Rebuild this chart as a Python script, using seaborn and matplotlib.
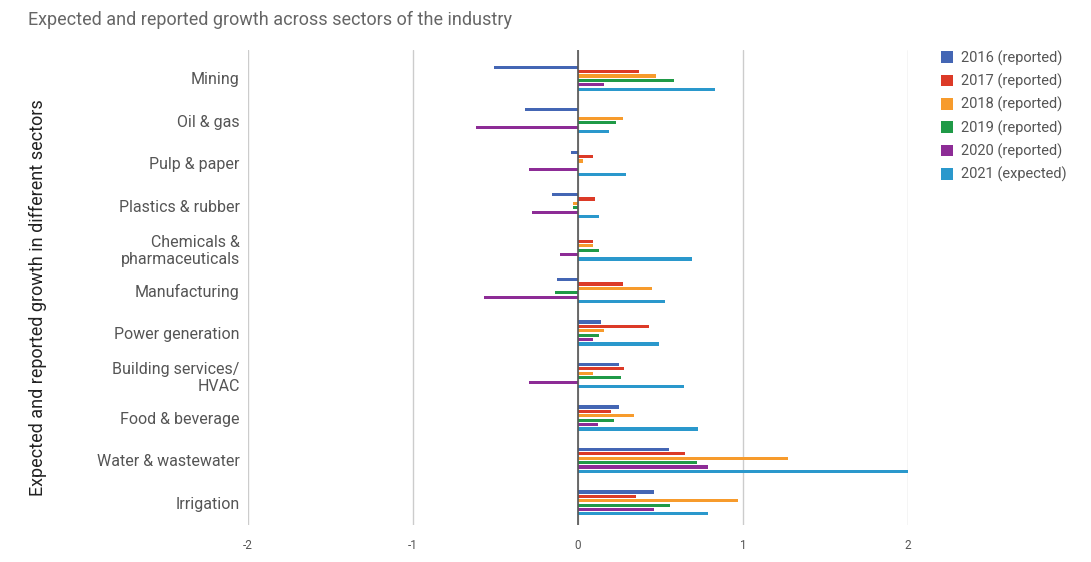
import matplotlib
matplotlib.use("Agg")
import matplotlib.pyplot as plt
import seaborn as sns
import pandas as pd

sns.set_theme(style="white")
plt.rcParams['font.family'] = ['Roboto', 'DejaVu Sans']

sectors = ['Mining', 'Oil & gas', 'Pulp & paper', 'Plastics & rubber',
           'Chemicals &\npharmaceuticals', 'Manufacturing', 'Power generation',
           'Building services/\nHVAC', 'Food & beverage', 'Water & wastewater',
           'Irrigation']
years = ['2016 (reported)', '2017 (reported)', '2018 (reported)',
         '2019 (reported)', '2020 (reported)', '2021 (expected)']

g2016 = [-0.51, -0.32, -0.04, -0.16, 0.0, -0.13, 0.14, 0.25, 0.25, 0.55, 0.46]
g2017 = [0.37, 0.0, 0.09, 0.10, 0.09, 0.27, 0.43, 0.28, 0.20, 0.65, 0.35]
g2018 = [0.47, 0.27, 0.03, -0.03, 0.09, 0.45, 0.16, 0.09, 0.34, 1.27, 0.97]
g2019 = [0.58, 0.23, 0.0, -0.03, 0.13, -0.14, 0.13, 0.26, 0.22, 0.72, 0.56]
g2020 = [0.16, -0.62, -0.30, -0.28, -0.11, -0.57, 0.09, -0.30, 0.12, 0.79, 0.46]
g2021 = [0.83, 0.19, 0.29, 0.13, 0.69, 0.53, 0.49, 0.64, 0.73, 2.00, 0.79]

colors = ['#4466b4', '#dc3a27', '#f79b2c', '#1f9a47', '#8d2c96', '#2a98cc']

rows = []
for yr, vals in zip(years, [g2016, g2017, g2018, g2019, g2020, g2021]):
    for s, v in zip(sectors, vals):
        rows.append({'sector': s, 'year': yr, 'growth': v})
df = pd.DataFrame(rows)

fig = plt.figure(figsize=(10.91, 5.62), dpi=100)
ax = fig.add_axes([0.2273, 0.0658, 0.605, 0.845])

sns.barplot(data=df, y='sector', x='growth', hue='year', order=sectors,
            hue_order=years, palette=colors, orient='h', width=0.62,
            errorbar=None, ax=ax, saturation=1, linewidth=0)

# thin bars with small gaps, as in the original
for p in ax.patches:
    h = p.get_height()
    if h > 0.3:
        continue
    y = p.get_y()
    p.set_y(y + h * 0.14)
    p.set_height(h * 0.72)

ax.set_xlim(-2, 2)
ax.set_ylim(10.52, -0.66)
ax.set_xticks([-2, -1, 0, 1, 2])
ax.set_xticklabels(['-2', '-1', '0', '1', '2'], fontsize=8.5, color='#555555')
ax.tick_params(axis='y', labelsize=11.5, labelcolor='#555555', length=0, pad=6)
ax.tick_params(axis='x', length=0, pad=10)
for lab in ax.get_yticklabels():
    lab.set_horizontalalignment('right')
    lab.set_multialignment('right')
ax.grid(axis='x', color='#cccccc', linewidth=1)
ax.set_axisbelow(True)
ax.axvline(0, color='#555555', linewidth=1.2, zorder=3)
for sp in ax.spines.values():
    sp.set_visible(False)

ax.set_xlabel('')
ax.set_ylabel('')
fig.text(0.035, 0.47, 'Expected and reported growth in different sectors',
         rotation=90, ha='center', va='center', fontsize=13, color='#222222')
fig.text(0.026, 0.965, 'Expected and reported growth across sectors of the industry',
         ha='left', va='center', fontsize=13, color='#666666')

handles, labels = ax.get_legend_handles_labels()
ax.legend(handles, labels, loc='upper left', bbox_to_anchor=(0.857, 0.921),
          bbox_transform=fig.transFigure, frameon=False, fontsize=10.5,
          handlelength=0.85, handleheight=0.85, handletextpad=0.5,
          labelspacing=0.55, labelcolor='#555555', borderaxespad=0)

fig.savefig('out.png', dpi=100)
